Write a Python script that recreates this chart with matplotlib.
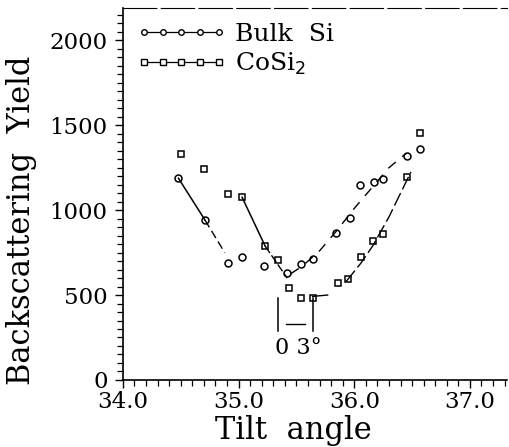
import numpy as np
import matplotlib
matplotlib.use('Agg')
import matplotlib.pyplot as plt
from matplotlib.ticker import MultipleLocator

plt.rcParams['font.family'] = ['DejaVu Serif']

# Bulk Si (circles)
si_x = [34.48, 34.71, 34.91, 35.03, 35.22, 35.42, 35.54, 35.64, 35.84, 35.96,
        36.05, 36.17, 36.25, 36.46, 36.57]
si_y = [1188, 941, 688, 724, 671, 629, 682, 712, 865, 953,
        1147, 1165, 1182, 1318, 1359]

# CoSi2 (squares)
co_x = [34.50, 34.70, 34.91, 35.03, 35.23, 35.34, 35.44, 35.54, 35.64, 35.86,
        35.95, 36.06, 36.16, 36.25, 36.46, 36.57]
co_y = [1329, 1241, 1094, 1076, 788, 706, 541, 482, 482, 571,
        594, 724, 818, 859, 1194, 1453]

# guide lines drawn through the dips
si_left_x = [34.48, 34.71, 34.88]
si_left_y = [1188, 941, 750]
si_right_x = [35.45, 35.55, 35.70, 35.85, 36.00, 36.15, 36.30, 36.45]
si_right_y = [625, 670, 760, 880, 1010, 1130, 1250, 1335]
co_left_x = [35.03, 35.23, 35.42]
co_left_y = [1076, 788, 600]
co_bot_x = [35.64, 35.77]
co_bot_y = [492, 500]
co_right_x = [35.93, 36.06, 36.16, 36.30, 36.49]
co_right_y = [580, 690, 790, 960, 1225]

fig = plt.figure(figsize=(5.1, 4.47), dpi=100)
ax = fig.add_axes([0.241, 0.150, 0.753, 0.832])

ax.plot(si_x, si_y, linestyle='none', marker='o', ms=5, mfc='white', mec='black', mew=1.1)
ax.plot(co_x, co_y, linestyle='none', marker='s', ms=4.5, mfc='white', mec='black', mew=1.1)

ax.plot(si_left_x[:2], si_left_y[:2], color='black', lw=1.1)
ax.plot(si_left_x[1:], si_left_y[1:], color='black', lw=1.0, linestyle=(0, (6, 3)))
ax.plot(si_right_x, si_right_y, color='black', lw=1.0, linestyle=(0, (7, 6)))
ax.plot(co_left_x[:2], co_left_y[:2], color='black', lw=1.1)
ax.plot(co_left_x[1:], co_left_y[1:], color='black', lw=1.0, linestyle=(0, (6, 2)))
ax.plot(co_bot_x, co_bot_y, color='black', lw=1.0)
ax.plot(co_right_x, co_right_y, color='black', lw=1.0, linestyle=(0, (10, 3)))

# 0.3 degree marker
ax.plot([35.34, 35.34], [286, 480], color='black', lw=1.1)
ax.plot([35.64, 35.64], [286, 480], color='black', lw=1.1)
ax.plot([35.41, 35.57], [327, 327], color='black', lw=1.0)
ax.text(35.52, 190, '0 3°', ha='center', va='center', fontsize=16)

# legend
h1, = ax.plot([], [], marker='o', ms=4, mfc='white', mec='black', mew=1.0,
              color='black', lw=0.9)
h2, = ax.plot([], [], marker='s', ms=3.8, mfc='white', mec='black', mew=1.0,
              color='black', lw=0.9)
ax.legend([h1, h2], ['Bulk  Si', 'CoSi$_2$'], loc='upper left', numpoints=5,
          bbox_to_anchor=(0.035, 0.96), handlelength=3.6, handletextpad=0.35,
          frameon=False, fontsize=18, borderaxespad=0.0, borderpad=0.0,
          labelspacing=0.2)

ax.set_xlim(34.0, 37.32)
ax.set_ylim(0, 2190)
ax.xaxis.set_major_locator(MultipleLocator(1.0))
ax.xaxis.set_minor_locator(MultipleLocator(0.1))
ax.yaxis.set_major_locator(MultipleLocator(500))
ax.yaxis.set_minor_locator(MultipleLocator(50))
ax.xaxis.set_major_formatter(matplotlib.ticker.FormatStrFormatter('%.1f'))
ax.tick_params(which='major', direction='out', length=6, width=1.0, labelsize=16.5)
ax.tick_params(axis='y', which='major', pad=5)
ax.tick_params(axis='x', which='major', pad=2)
ax.tick_params(which='minor', direction='out', length=4, width=0.9)

ax.spines['right'].set_visible(False)
ax.spines['top'].set_linestyle((0, (30, 4)))
ax.spines['top'].set_linewidth(0.8)
ax.spines['left'].set_linewidth(1.2)
ax.spines['bottom'].set_linewidth(1.2)

ax.set_xlabel('Tilt  angle', fontsize=22)
ax.xaxis.set_label_coords(0.443, -0.095)
ax.set_ylabel('Backscattering  Yield', fontsize=22)
ax.yaxis.set_label_coords(-0.225, 0.43)

fig.savefig('out.png', dpi=100)
